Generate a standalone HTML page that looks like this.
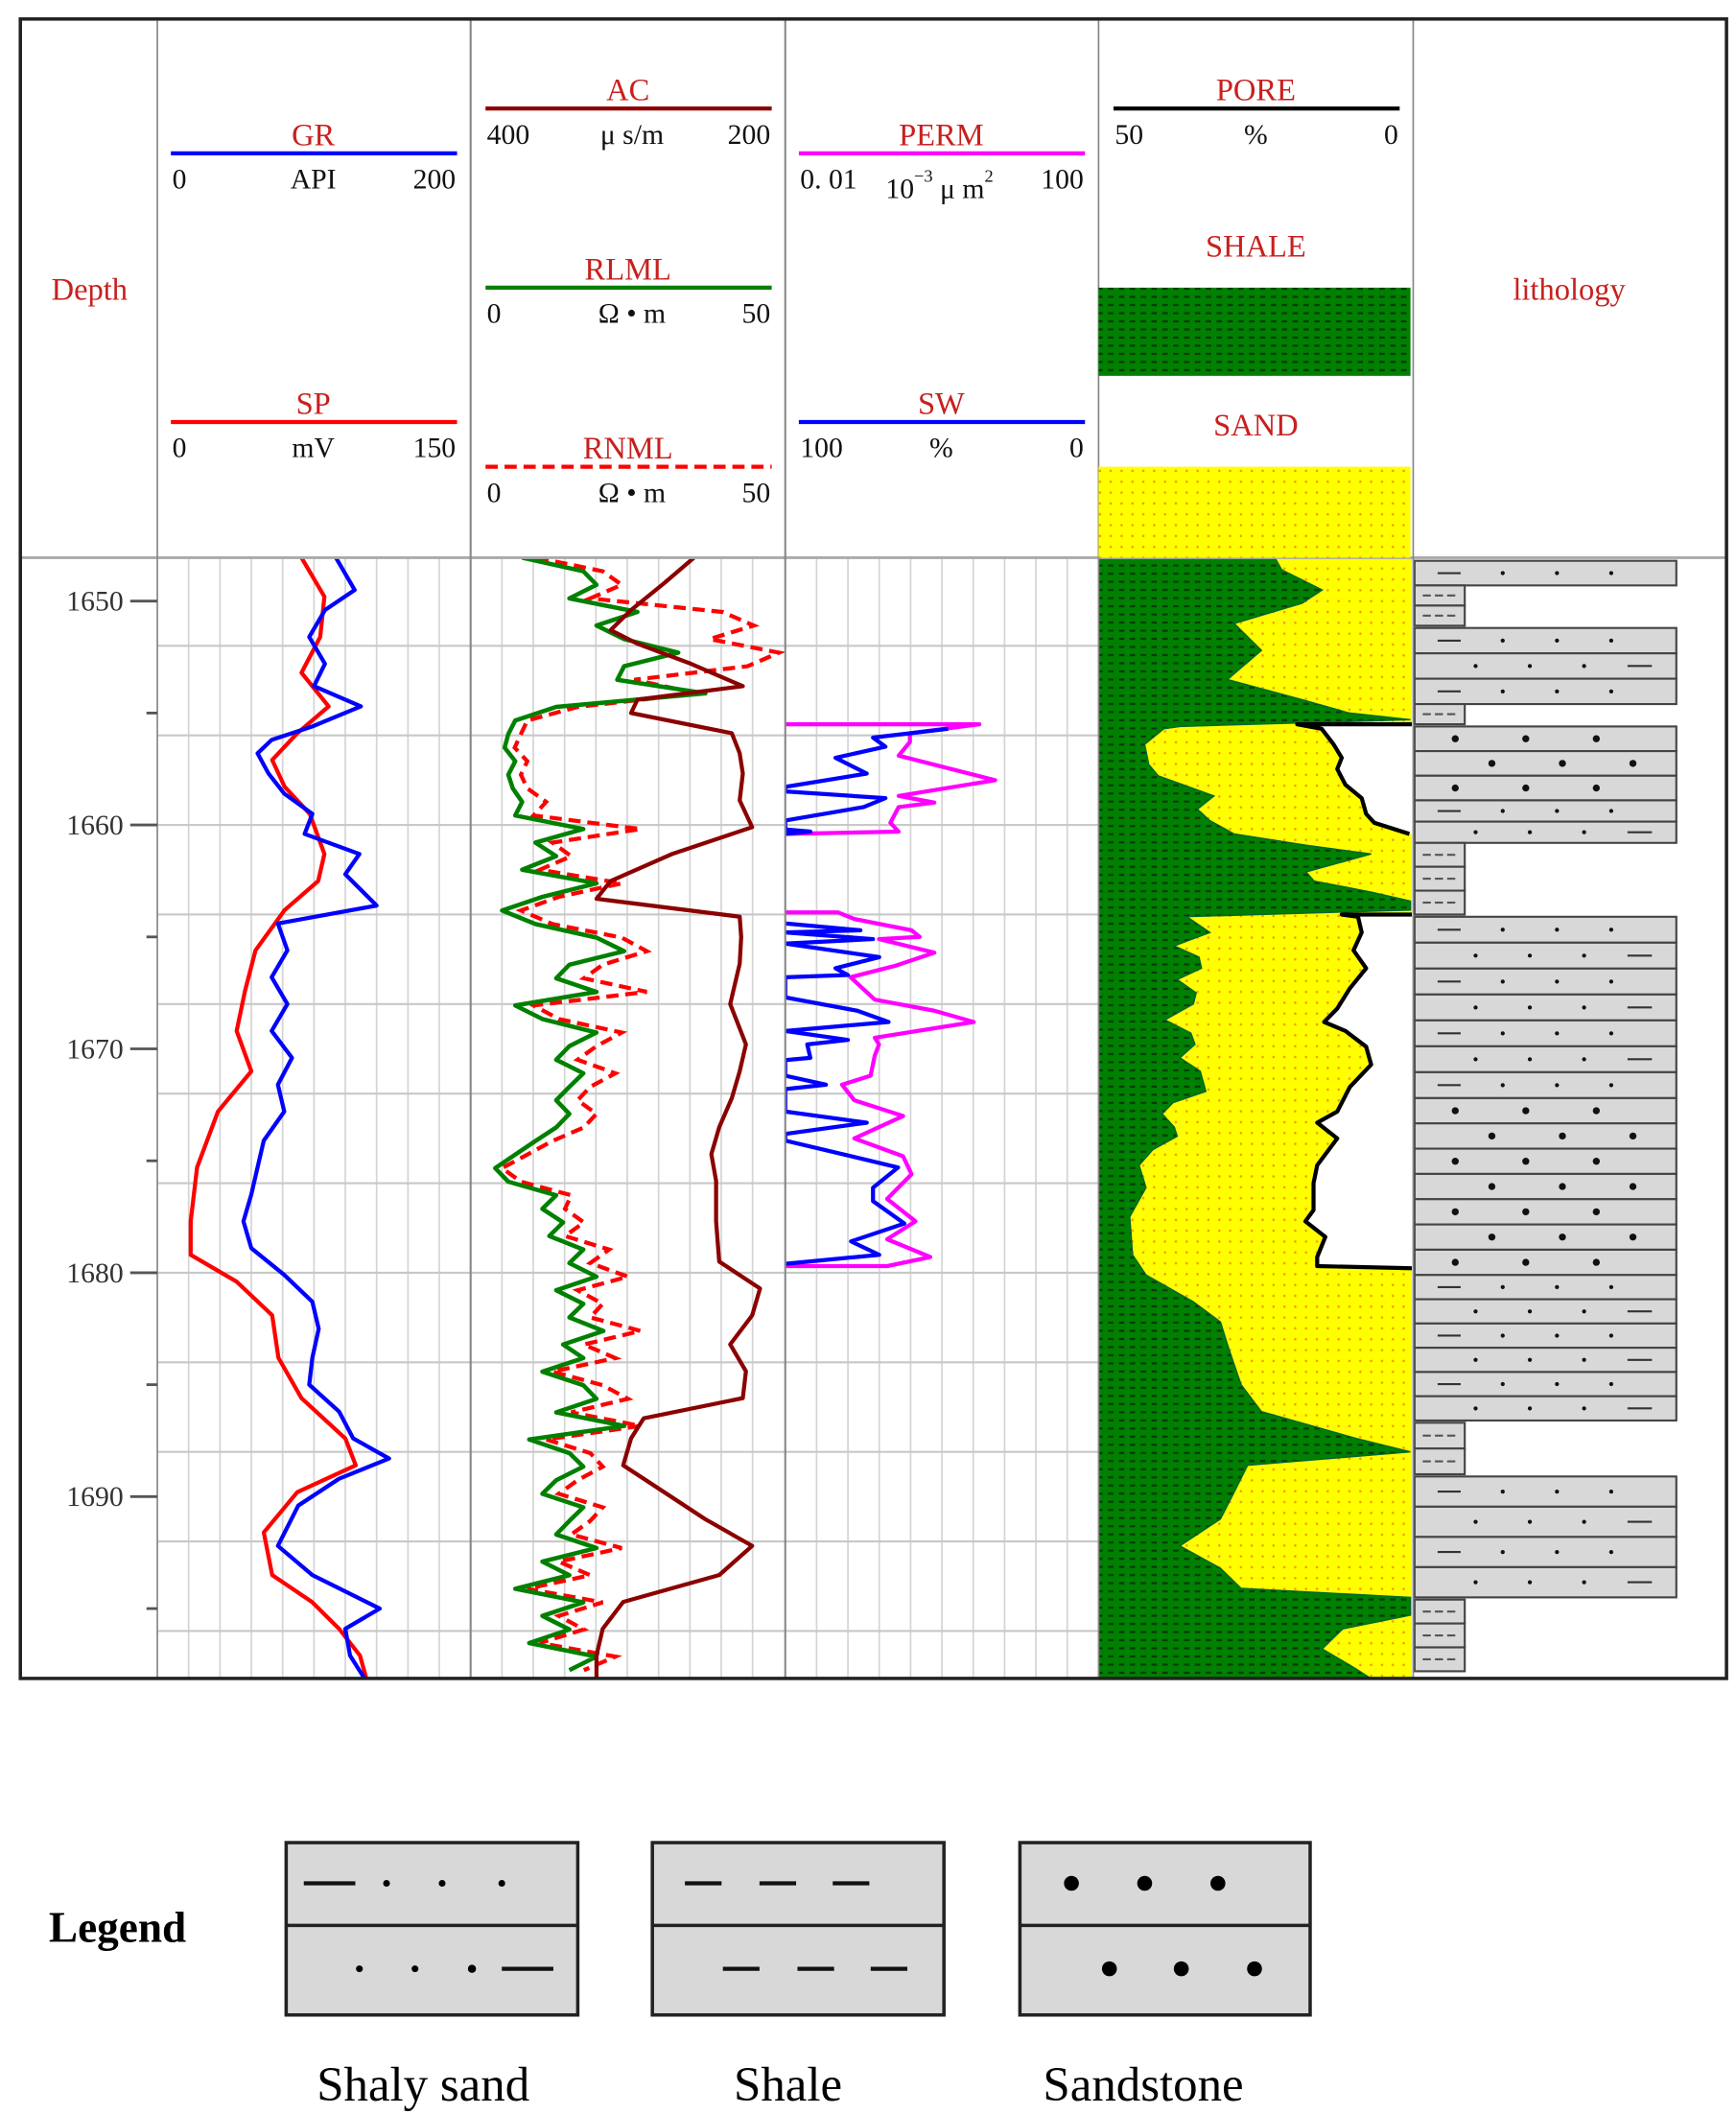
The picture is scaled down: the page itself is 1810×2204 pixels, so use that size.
<!DOCTYPE html>
<html><head><meta charset="utf-8">
<style>
html,body{margin:0;padding:0;background:#fff;}
svg{display:block;}
.t{font-family:"Liberation Serif","Noto Serif CJK SC",serif;fill:#c8201e;font-size:23px;}
.s{font-family:"Liberation Serif","Noto Serif CJK SC",serif;fill:#111;font-size:21px;}
.d{font-family:"Liberation Serif",serif;fill:#333;font-size:21px;}
</style></head>
<body>
<svg id="chart" width="1810" height="2204" viewBox="0 0 1280 1558" preserveAspectRatio="none" xmlns="http://www.w3.org/2000/svg">
<defs>
<pattern id="shalePat" width="8" height="6" patternUnits="userSpaceOnUse">
<rect width="8" height="6" fill="#008000"/><rect x="1" y="2" width="4" height="1.6" fill="#0a3a0a"/>
</pattern>
<pattern id="sandPat" width="8" height="8" patternUnits="userSpaceOnUse">
<rect width="8" height="8" fill="#ffff00"/><circle cx="3" cy="3" r="0.9" fill="#f0a000"/>
</pattern>
<clipPath id="clipT1"><rect x="116" y="411" width="231" height="826"/></clipPath>
<clipPath id="clipT2"><rect x="347" y="411" width="232" height="826"/></clipPath>
<clipPath id="clipT3"><rect x="579" y="411" width="231" height="826"/></clipPath>
<clipPath id="clipT4"><rect x="810" y="411" width="231" height="826"/></clipPath>
</defs>
<rect x="0" y="0" width="1280" height="1558" fill="#fff"/>
<g id="grid"></g>
<g id="marks"></g>
<g id="litho"></g>

<!-- frame -->
<g fill="none">
<line x1="15" y1="411" x2="1273" y2="411" stroke="#aaa" stroke-width="2"/>
<line x1="116" y1="14" x2="116" y2="1237" stroke="#888" stroke-width="1.2"/>
<line x1="347" y1="14" x2="347" y2="1237" stroke="#888" stroke-width="1.5"/>
<line x1="579" y1="14" x2="579" y2="1237" stroke="#888" stroke-width="1.5"/>
<line x1="810" y1="14" x2="810" y2="1237" stroke="#888" stroke-width="1.2"/>
<line x1="1042" y1="14" x2="1042" y2="1237" stroke="#888" stroke-width="1.2"/>
<rect x="15" y="14" width="1258" height="1223" stroke="#222" stroke-width="2.5"/>
</g>

<!-- header -->
<g>
<text class="t" x="66" y="221" text-anchor="middle">Depth</text>
<text class="t" x="1157" y="221" text-anchor="middle">lithology</text>

<text class="t" x="231" y="107" text-anchor="middle">GR</text>
<line x1="126" y1="113" x2="337" y2="113" stroke="#0000ff" stroke-width="3"/>
<text class="s" x="127" y="139">0</text>
<text class="s" x="231" y="139" text-anchor="middle">API</text>
<text class="s" x="336" y="139" text-anchor="end">200</text>

<text class="t" x="231" y="305" text-anchor="middle">SP</text>
<line x1="126" y1="311" x2="337" y2="311" stroke="#ff0000" stroke-width="3"/>
<text class="s" x="127" y="337">0</text>
<text class="s" x="231" y="337" text-anchor="middle">mV</text>
<text class="s" x="336" y="337" text-anchor="end">150</text>

<text class="t" x="463" y="74" text-anchor="middle">AC</text>
<line x1="358" y1="80" x2="569" y2="80" stroke="#8b0000" stroke-width="3"/>
<text class="s" x="359" y="106">400</text>
<text class="s" x="466" y="106" text-anchor="middle">μ s/m</text>
<text class="s" x="568" y="106" text-anchor="end">200</text>

<text class="t" x="463" y="206" text-anchor="middle">RLML</text>
<line x1="358" y1="212" x2="569" y2="212" stroke="#008000" stroke-width="3"/>
<text class="s" x="359" y="238">0</text>
<text class="s" x="466" y="238" text-anchor="middle">Ω • m</text>
<text class="s" x="568" y="238" text-anchor="end">50</text>

<text class="t" x="463" y="338" text-anchor="middle">RNML</text>
<line x1="358" y1="344" x2="569" y2="344" stroke="#ff0000" stroke-width="3" stroke-dasharray="9,5"/>
<text class="s" x="359" y="370">0</text>
<text class="s" x="466" y="370" text-anchor="middle">Ω • m</text>
<text class="s" x="568" y="370" text-anchor="end">50</text>

<text class="t" x="694" y="107" text-anchor="middle">PERM</text>
<line x1="589" y1="113" x2="800" y2="113" stroke="#ff00ff" stroke-width="3"/>
<text class="s" x="590" y="139">0. 01</text>
<text class="s" x="653" y="146">10<tspan font-size="13" dy="-12">−3</tspan><tspan dy="12"> μ m</tspan><tspan font-size="13" dy="-12">2</tspan></text>
<text class="s" x="799" y="139" text-anchor="end">100</text>

<text class="t" x="694" y="305" text-anchor="middle">SW</text>
<line x1="589" y1="311" x2="800" y2="311" stroke="#0000ff" stroke-width="3"/>
<text class="s" x="590" y="337">100</text>
<text class="s" x="694" y="337" text-anchor="middle">%</text>
<text class="s" x="799" y="337" text-anchor="end">0</text>

<text class="t" x="926" y="74" text-anchor="middle">PORE</text>
<line x1="821" y1="80" x2="1032" y2="80" stroke="#000" stroke-width="3"/>
<text class="s" x="822" y="106">50</text>
<text class="s" x="926" y="106" text-anchor="middle">%</text>
<text class="s" x="1031" y="106" text-anchor="end">0</text>

<text class="t" x="926" y="189" text-anchor="middle">SHALE</text>
<rect x="810" y="212" width="230" height="65" fill="url(#shalePat)"/>
<text class="t" x="926" y="321" text-anchor="middle">SAND</text>
<rect x="810" y="344" width="230" height="67" fill="url(#sandPat)"/>
</g>

<g id="depthAxis"></g>

<!-- legend -->
<g id="legend">
<text x="36" y="1431" font-family="Liberation Serif,serif" font-weight="bold" font-size="32" fill="#000">Legend</text>
<g>
<rect x="211" y="1358" width="215" height="127" fill="#d8d8d8" stroke="#222" stroke-width="2.5"/>
<line x1="211" y1="1419" x2="426" y2="1419" stroke="#222" stroke-width="2.5"/>
<line x1="224" y1="1388" x2="262" y2="1388" stroke="#111" stroke-width="3"/>
<circle cx="285" cy="1388" r="2.5"/><circle cx="326" cy="1388" r="2.5"/><circle cx="370" cy="1388" r="2.5"/>
<circle cx="265" cy="1451" r="2.5"/><circle cx="306" cy="1451" r="2.5"/><circle cx="348" cy="1451" r="3"/>
<line x1="370" y1="1451" x2="408" y2="1451" stroke="#111" stroke-width="3"/>
<text x="312" y="1548" text-anchor="middle" font-family="Liberation Serif,serif" font-size="36" fill="#000">Shaly sand</text>
</g>
<g>
<rect x="481" y="1358" width="215" height="127" fill="#d8d8d8" stroke="#222" stroke-width="2.5"/>
<line x1="481" y1="1419" x2="696" y2="1419" stroke="#222" stroke-width="2.5"/>
<g stroke="#111" stroke-width="3"><line x1="505" y1="1388" x2="532" y2="1388"/><line x1="560" y1="1388" x2="587" y2="1388"/><line x1="614" y1="1388" x2="641" y2="1388"/>
<line x1="533" y1="1451" x2="560" y2="1451"/><line x1="588" y1="1451" x2="615" y2="1451"/><line x1="642" y1="1451" x2="669" y2="1451"/></g>
<text x="581" y="1548" text-anchor="middle" font-family="Liberation Serif,serif" font-size="36" fill="#000">Shale</text>
</g>
<g>
<rect x="752" y="1358" width="214" height="127" fill="#d8d8d8" stroke="#222" stroke-width="2.5"/>
<line x1="752" y1="1419" x2="966" y2="1419" stroke="#222" stroke-width="2.5"/>
<circle cx="790" cy="1388" r="5.5"/><circle cx="844" cy="1388" r="5.5"/><circle cx="898" cy="1388" r="5.5"/>
<circle cx="818" cy="1451" r="5.5"/><circle cx="871" cy="1451" r="5.5"/><circle cx="925" cy="1451" r="5.5"/>
<text x="843" y="1548" text-anchor="middle" font-family="Liberation Serif,serif" font-size="36" fill="#000">Sandstone</text>
</g>
</g>
</svg>

<script>
// ---------- data ----------
const depthTicks = [1650, 1660, 1670, 1680, 1690];
const depthMinor = [1655, 1665, 1675, 1685, 1695];
const gridDepths = [1652, 1656, 1660, 1664, 1668, 1672, 1676, 1680, 1684, 1688, 1692, 1696];

const grDepth = [1648.06,1649.5,1650.4,1651.6,1652.8,1653.8,1654.7,1655.6,1656.2,1656.8,1657.7,1658.6,1659.5,1660.4,1661.3,1662.2,1663.6,1664.4,1665.6,1666.8,1668.0,1669.2,1670.4,1671.6,1672.8,1674.1,1675.3,1676.5,1677.7,1678.9,1680.1,1681.3,1682.5,1683.8,1685.0,1686.2,1687.4,1688.3,1689.2,1690.4,1692.2,1693.5,1695.0,1695.9,1697.1,1698.1];
const grValue = [114,126,107,97,107,100,130,99,73,64,71,81,99,94,129,120,140,77,83,73,83,73,86,77,81,68,64,60,55,60,81,99,103,99,97,116,125,148,116,90,77,99,142,120,123,132];

const spDepth = [1648.06,1649.8,1651.6,1653.2,1654.7,1655.9,1657.1,1658.3,1659.5,1661.3,1662.5,1663.8,1665.6,1667.4,1669.2,1671.0,1672.8,1675.3,1677.7,1679.2,1680.4,1681.9,1683.8,1685.6,1687.4,1688.6,1689.8,1691.6,1693.5,1694.7,1695.9,1697.1,1698.1];
const spValue = [69,80,78,69,82,67,55,61,73,80,77,61,47,42,38,45,29,19,16,16,38,55,58,69,90,95,67,51,55,74,87,97,100];

const acDepth = [1648.06,1649.2,1650.4,1651.3,1651.9,1652.8,1653.8,1654.4,1655.0,1655.9,1656.8,1657.7,1658.9,1660.1,1661.3,1662.5,1663.3,1664.1,1665.0,1666.2,1668.0,1669.8,1671.0,1672.2,1673.5,1674.7,1675.9,1677.7,1679.5,1680.7,1681.9,1683.2,1684.4,1685.6,1686.5,1687.4,1688.6,1689.8,1691.0,1692.2,1693.5,1694.7,1695.9,1697.1,1698.1];
const acValue = [258,277,298,311,294,260,227,294,298,234,229,227,229,221,272,311,320,229,228,229,235,225,229,234,242,247,244,244,242,216,221,235,225,227,290,298,303,277,251,221,242,303,316,320,320];

const resStartDepth = 1648.06;
const resStep = 0.606;
const rlmlValue = [8.2,17.9,20.0,15.7,26.5,20.0,24.4,33.0,24.4,23.3,
37.3,13.6,7.1,6.0,5.4,7.1,6.0,6.7,8.2,7.1,
17.9,10.3,13.6,8.2,20.0,11.4,5.0,10.3,20.0,24.4,
15.7,13.6,20.0,7.1,11.4,20.0,15.7,13.6,17.9,15.7,
13.6,15.7,13.6,10.3,7.1,3.9,6.0,13.6,11.4,14.7,
12.5,17.9,15.7,20.0,13.6,17.9,15.7,21.1,14.7,17.9,
11.4,17.9,20.0,13.6,24.4,9.3,15.7,17.9,13.6,11.4,
17.9,15.7,13.6,20.0,11.4,15.7,7.1,17.9,11.4,15.7,
9.3,20.0,15.7];
const rnmlValue = [10.5,21,24,19,40,45,38,49,44,26,
36,17,9,8,7,9,8,9,12,10,
27,13,16,11,24,14,8,13,24,28,
21,18,28,10,14,24,20,17,23,19,
17,20,18,13,9,5,8,16,15,18,
15,22,19,25,17,21,19,27,18,23,
13,21,25,16,27,12,19,21,17,14,
21,19,16,24,14,19,9,21,14,18,
11,23,18];

const permDepth1 = [1655.5,1655.5,1655.9,1656.3,1656.9,1658.0,1658.7,1659.0,1659.2,1659.9,1660.3,1660.4];
const permValue1 = [0.01,3.0,0.39,0.39,0.28,4.8,0.28,0.8,0.28,0.22,0.28,0.01];
const permDepth2 = [1663.9,1663.9,1664.2,1664.7,1665.0,1665.1,1665.7,1666.3,1666.8,1667.3,1667.8,1668.3,1668.8,1669.5,1669.8,1670.3,1671.2,1671.6,1672.3,1673.0,1674.0,1674.8,1675.6,1676.7,1677.7,1678.5,1679.3,1679.7,1679.7];
const permValue2 = [0.01,0.047,0.076,0.41,0.52,0.157,0.8,0.25,0.068,0.097,0.139,0.8,2.55,0.139,0.157,0.139,0.123,0.053,0.076,0.32,0.076,0.32,0.41,0.2,0.46,0.2,0.71,0.2,0.01];

const swDepth1 = [1655.7,1656.1,1656.5,1657.0,1657.7,1658.3,1658.5,1658.8,1659.2,1659.8,1660.2,1660.3,1660.4];
const swValue1 = [48,72,68,84,74,100,100,68,75,100,100,92,100];
const swDepth2 = [1664.4,1664.7,1664.8,1665.1,1665.3,1665.9,1666.4,1666.7,1666.8,1667.7,1668.3,1668.8,1669.2,1669.6,1669.8,1670.4,1670.5,1671.2,1671.6,1671.8,1672.8,1673.3,1673.8,1674.1,1675.3,1676.2,1676.8,1677.8,1678.6,1679.2,1679.6];
const swValue2 = [100,76,100,72,100,70,84,80,100,100,77,67,100,80,93,92,100,100,87,100,100,74,100,100,64,72,72,62,79,70,100];

const vshDepth = [1648.06,1648.6,1649.5,1650.1,1651.0,1652.2,1653.5,1654.4,1655.0,1655.3,1655.6,1655.7,1656.4,1657.3,1657.8,1658.7,1659.3,1659.8,1660.4,1660.9,1661.3,1662.1,1662.5,1663.0,1663.4,1663.8,1664.1,1664.8,1665.4,1665.9,1666.4,1666.9,1667.5,1668.0,1668.7,1669.3,1669.8,1670.4,1671.0,1671.9,1672.4,1672.9,1673.5,1673.9,1674.5,1675.2,1676.2,1677.5,1679.2,1680.1,1681.3,1682.2,1683.2,1684.1,1685.0,1686.2,1687.4,1688.0,1688.6,1689.8,1691.0,1692.2,1693.2,1694.1,1694.5,1695.3,1695.9,1696.8,1697.7,1698.1];
const vshValue = [56.5,58.7,71.7,65.2,43.5,52.2,41.3,65.2,80.4,100,26.1,20.9,14.8,16.1,19.1,37.0,31.7,35.6,43.5,66.5,87.4,66.5,69.1,87.4,100,100,28.3,35.7,24.3,32.2,33.0,25.2,31.3,30.4,21.3,29.6,30.9,26.1,32.6,34.4,23.9,20.4,24.3,25.2,17.4,13.0,15.2,10.0,10.9,15.2,30.4,39.1,41.3,43.5,45.7,52.2,82.6,100,47.8,43.5,39.1,26.1,39.1,45.7,100,100,78.3,71.7,82.6,87.0];

const poreDepth1 = [1655.5,1655.5,1655.7,1656.4,1657.0,1657.5,1658.2,1658.8,1659.5,1659.9,1660.4];
const poreValue1 = [0,18.3,14.4,12.5,11.2,11.9,10.6,8.0,7.3,6.0,0.4];
const poreDepth2 = [1664.0,1664.0,1664.1,1664.8,1665.6,1666.4,1667.3,1668.2,1668.8,1669.2,1669.9,1670.7,1671.7,1672.8,1673.3,1674.0,1675.2,1676.0,1677.2,1677.7,1678.4,1679.3,1679.7,1679.8];
const poreValue2 = [0,11.2,8.6,8.0,9.3,7.3,9.9,11.9,14.0,10.6,7.3,6.5,9.9,11.9,15.1,11.9,15.1,15.7,15.7,17.0,13.8,15.1,15.1,0];

const lithTop = [1648.2,1649.3,1651.2,1654.6,1655.6,1658.9,1660.8,1664.1,1672.2,1680.1,1686.7,1689.1,1694.6];
const lithBottom = [1649.3,1651.1,1654.6,1655.5,1658.9,1660.8,1664.0,1672.2,1680.1,1686.6,1689.0,1694.5,1697.8];
const lithType = ['shaly-sand','shale','shaly-sand','shale','sandstone','shaly-sand','shale','shaly-sand','sandstone','shaly-sand','shale','shaly-sand','shale'];
const lithRows = [1,2,3,1,3,2,3,7,7,6,2,4,3];

// ---------- scales ----------
const NS = 'http://www.w3.org/2000/svg';
const yD = d => 443 + (d - 1650) * 16.5;
const xGR = v => 116 + v / 200 * 231;
const xSP = v => 116 + v / 150 * 231;
const xAC = v => 347 + (400 - v) / 200 * 232;
const xRes = v => 347 + v / 50 * 232;
const xPerm = v => 579 + (Math.log10(v) + 2) / 4 * 231;
const xSW = v => 579 + (100 - v) / 100 * 231;
const xVsh = v => 810 + v / 100 * 230;
const xPore = v => 810 + (50 - v) / 50 * 231;

function mk(tag, attrs, parent) {
  const e = document.createElementNS(NS, tag);
  for (const k in attrs) e.setAttribute(k, attrs[k]);
  parent.appendChild(e);
  return e;
}
function pts(ds, vs, fx) { return ds.map((d, i) => fx(vs[i]).toFixed(1) + ',' + yD(d).toFixed(1)).join(' '); }

// ---------- grid ----------
const grid = document.getElementById('grid');
for (let t = 0; t < 3; t++) {
  const x0 = [116, 347, 579][t];
  for (let i = 1; i < 10; i++) {
    const gl = mk('line', {x1: x0 + i * 23.1, y1: 411, x2: x0 + i * 23.1, y2: 1237, stroke: '#d4d4d4', 'stroke-width': 1.2}, grid);
    
    
  }
}
gridDepths.forEach(d => {
  const gl = mk('line', {x1: 116, y1: yD(d), x2: 810, y2: yD(d), stroke: '#c8c8c8', 'stroke-width': 1.5}, grid);
  
  
});

// ---------- depth axis ----------
const ax = document.getElementById('depthAxis');
depthTicks.forEach(d => {
  const tk = mk('line', {x1: 96, y1: yD(d), x2: 116, y2: yD(d), stroke: '#555', 'stroke-width': 2}, ax);
  
  
  const lb = mk('text', {x: 70, y: yD(d) + 7, 'text-anchor': 'middle', class: 'd'}, ax);
  lb.textContent = d;
  
  
});
depthMinor.forEach(d => {
  const tk = mk('line', {x1: 108, y1: yD(d), x2: 116, y2: yD(d), stroke: '#555', 'stroke-width': 2}, ax);
  
  
});

// ---------- curves ----------
const marks = document.getElementById('marks');

// pore / shale track
const g4 = mk('g', {'clip-path': 'url(#clipT4)'}, marks);


const sandBg = mk('rect', {x: 810, y: 411, width: 231, height: 826, fill: 'url(#sandPat)'}, g4);


const shPoly = '810,' + yD(vshDepth[0]) + ' ' + pts(vshDepth, vshValue, xVsh) + ' 810,' + yD(vshDepth[vshDepth.length - 1]);
const shFill = mk('polygon', {points: shPoly, fill: 'url(#shalePat)', stroke: '#063', 'stroke-width': 1}, g4);


[[poreDepth1, poreValue1], [poreDepth2, poreValue2]].forEach(([ds, vs]) => {
  const p = pts(ds, vs, xPore);
  const poly = mk('polygon', {points: p + ' 1041,' + yD(ds[ds.length - 1]) + ' 1041,' + yD(ds[0]), fill: '#fff'}, g4);
  
  
  const ln = mk('polyline', {points: p, fill: 'none', stroke: '#000', 'stroke-width': 3, 'stroke-linejoin': 'round'}, g4);
  
  
});

// track 1
const g1 = mk('g', {'clip-path': 'url(#clipT1)'}, marks);


const spL = mk('polyline', {points: pts(spDepth, spValue, xSP), fill: 'none', stroke: '#ff0000', 'stroke-width': 3, 'stroke-linejoin': 'round'}, g1);


const grL = mk('polyline', {points: pts(grDepth, grValue, xGR), fill: 'none', stroke: '#0000ff', 'stroke-width': 3, 'stroke-linejoin': 'round'}, g1);



// track 2
const g2 = mk('g', {'clip-path': 'url(#clipT2)'}, marks);


const resDepth = rlmlValue.map((v, i) => resStartDepth + i * resStep);
const rnL = mk('polyline', {points: pts(resDepth, rnmlValue, xRes), fill: 'none', stroke: '#ff0000', 'stroke-width': 3, 'stroke-dasharray': '9,5'}, g2);


const rlL = mk('polyline', {points: pts(resDepth, rlmlValue, xRes), fill: 'none', stroke: '#008000', 'stroke-width': 3.2, 'stroke-linejoin': 'round'}, g2);


const acL = mk('polyline', {points: pts(acDepth, acValue, xAC), fill: 'none', stroke: '#8b0000', 'stroke-width': 3, 'stroke-linejoin': 'round'}, g2);



// track 3
const g3 = mk('g', {'clip-path': 'url(#clipT3)'}, marks);


[[permDepth1, permValue1], [permDepth2, permValue2]].forEach(([ds, vs]) => {
  const l = mk('polyline', {points: pts(ds, vs, xPerm), fill: 'none', stroke: '#ff00ff', 'stroke-width': 3, 'stroke-linejoin': 'round'}, g3);
  
  
});
[[swDepth1, swValue1], [swDepth2, swValue2]].forEach(([ds, vs]) => {
  const l = mk('polyline', {points: pts(ds, vs, xSW), fill: 'none', stroke: '#0000ff', 'stroke-width': 3, 'stroke-linejoin': 'round'}, g3);
  
  
});

// ---------- lithology ----------
const lg = document.getElementById('litho');
lithTop.forEach((top, i) => {
  const n = lithRows[i];
  const h = (lithBottom[i] - top) / n;
  for (let r = 0; r < n; r++) {
    const y0 = yD(top + r * h), y1 = yD(top + (r + 1) * h);
    const type = lithType[i];
    const w = type === 'shale' ? 37 : 193;
    const cell = mk('g', {}, lg);
    
    
    mk('rect', {x: 1043, y: y0, width: w, height: y1 - y0, fill: '#d8d8d8', stroke: '#444', 'stroke-width': 1.5}, cell);
    const cy = (y0 + y1) / 2;
    if (type === 'shale') {
      [1052, 1061, 1070].forEach(x => mk('line', {x1: x - 3, y1: cy, x2: x + 3, y2: cy, stroke: '#555', 'stroke-width': 1.5}, cell));
    } else if (type === 'shaly-sand') {
      if (r % 2 === 0) {
        mk('line', {x1: 1060, y1: cy, x2: 1077, y2: cy, stroke: '#333', 'stroke-width': 1.5}, cell);
        [1108, 1148, 1188].forEach(x => mk('circle', {cx: x, cy: cy, r: 1.5, fill: '#111'}, cell));
      } else {
        [1088, 1128, 1168].forEach(x => mk('circle', {cx: x, cy: cy, r: 1.5, fill: '#111'}, cell));
        mk('line', {x1: 1200, y1: cy, x2: 1218, y2: cy, stroke: '#333', 'stroke-width': 1.5}, cell);
      }
    } else {
      const xs = r % 2 === 0 ? [1073, 1125, 1177] : [1100, 1152, 1204];
      xs.forEach(x => mk('circle', {cx: x, cy: cy, r: 2.6, fill: '#111'}, cell));
    }
  }
});
</script>
</body></html>
